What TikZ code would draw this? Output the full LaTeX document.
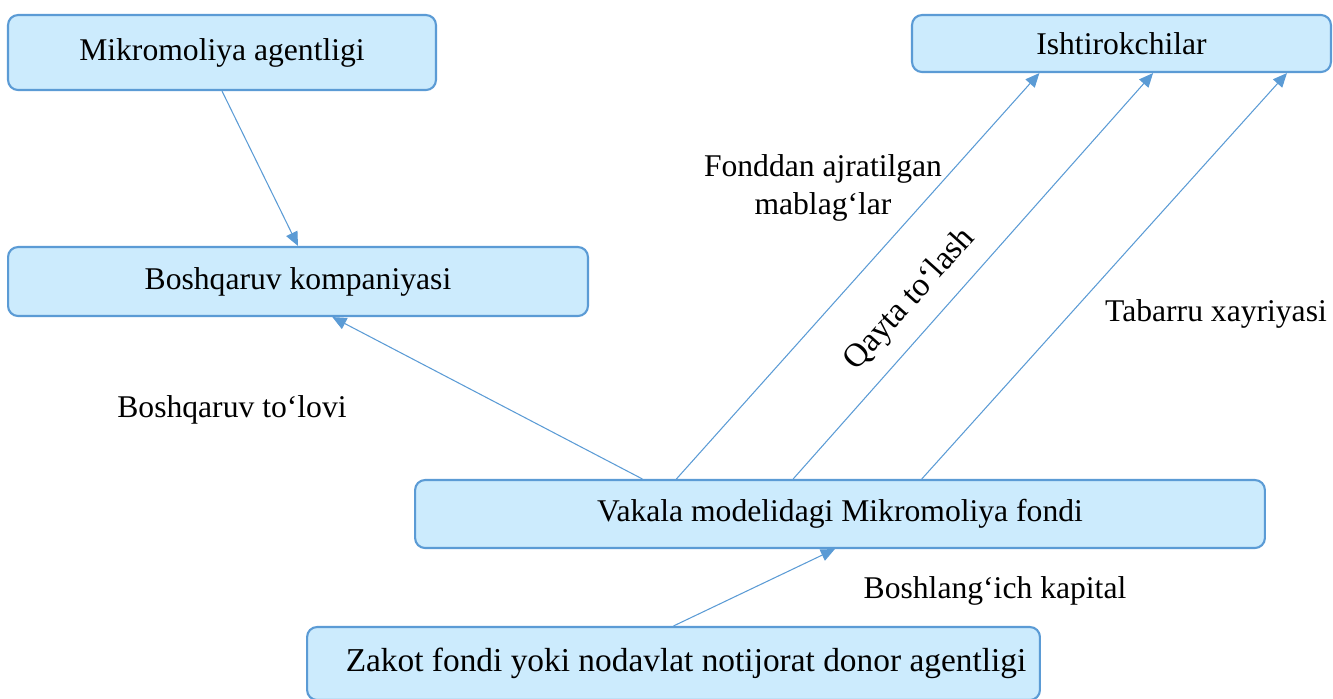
\documentclass[tikz,border=0pt]{standalone}
\usepackage{fontspec}
\setmainfont{Liberation Serif}
\usetikzlibrary{arrows.meta,calc}
\definecolor{boxfill}{HTML}{CCEBFD}
\definecolor{boxline}{HTML}{5B9BD5}
\tikzset{
  unit/.style={draw=boxline, fill=boxfill, line width=1.2pt, rounded corners=0.2cm,
    inner sep=0pt, font=\fontsize{18}{22}\selectfont},
  flow/.style={draw=boxline, line width=0.6pt, -{Triangle[length=8pt,width=7pt]}},
  tag/.style={font=\fontsize{18}{22}\selectfont, inner sep=0pt}
}
\begin{document}
\begin{tikzpicture}[x=0.02cm, y=-0.02cm]
\useasboundingbox (0,0) rectangle (1333,698);
% boxes
\node[unit, minimum width=8.56cm, minimum height=1.5cm] (agency) at (222,52.5) {Mikromoliya agentligi};
\node[unit, minimum width=8.38cm, minimum height=1.14cm] (members) at (1121.5,43.5) {Ishtirokchilar};
\node[unit, minimum width=11.6cm, minimum height=1.38cm] (company) at (298,281.5) {Boshqaruv kompaniyasi};
\node[unit, minimum width=17cm, minimum height=1.36cm] (fund) at (840,514) {Vakala modelidagi Mikromoliya fondi};
\node[unit, minimum width=14.66cm, minimum height=1.46cm, font=\fontsize{19}{23}\selectfont] (donor) at (673.5,663.5) {\hspace*{0.5cm}Zakot fondi yoki nodavlat notijorat donor agentligi};
% labels
\node[tag, align=center] (alloc) at (823,188) {Fonddan ajratilgan\\mablag‘lar};
\node[tag, rotate=48, font=\fontsize{19}{23}\selectfont] (repay) at (910,300) {Qayta to‘lash};
\node[tag] (charity) at (1216,314) {Tabarru xayriyasi};
\node[tag] (fee) at (232,410) {Boshqaruv to‘lovi};
\node[tag] (capital) at (995,591) {Boshlang‘ich kapital};
% connectors
\draw[flow] (agency.south) -- (company.north);
\draw[flow] ($(fund.north west)!0.268!(fund.north east)$) -- ($(company.south west)!0.559!(company.south east)$);
\draw[flow] ($(fund.north west)!0.308!(fund.north east)$) -- ($(members.south west)!0.305!(members.south east)$);
\draw[flow] ($(fund.north west)!0.445!(fund.north east)$) -- ($(members.south west)!0.575!(members.south east)$);
\draw[flow] ($(fund.north west)!0.596!(fund.north east)$) -- ($(members.south west)!0.893!(members.south east)$);
\draw[flow] (donor.north) -- ($(fund.south west)!0.494!(fund.south east)$);
\end{tikzpicture}
\end{document}
